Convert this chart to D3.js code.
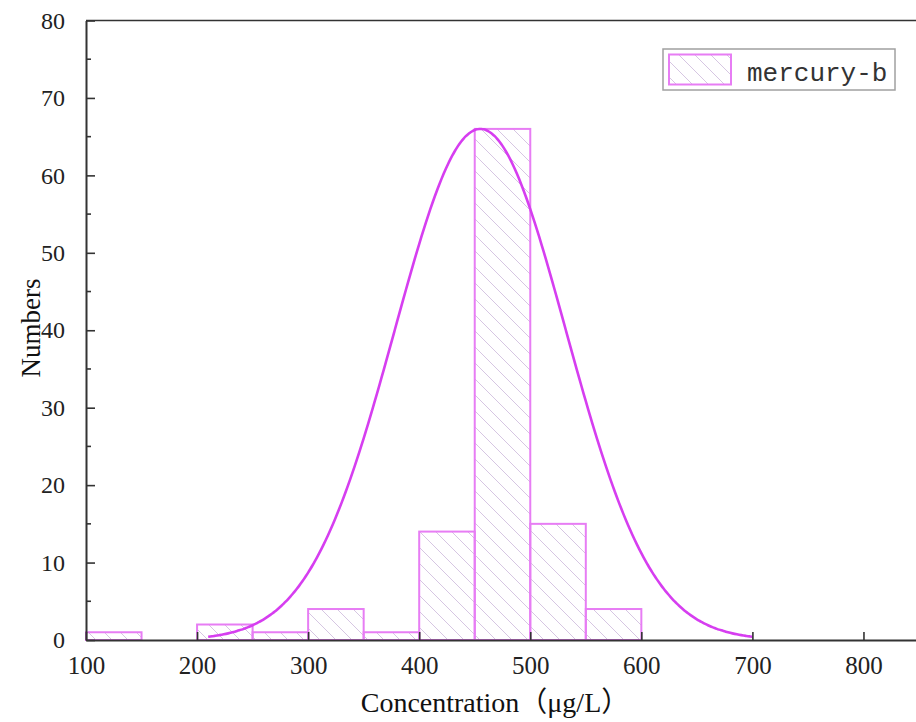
<!DOCTYPE html>
<html>
<head>
<meta charset="utf-8">
<script src="https://cdn.jsdelivr.net/npm/d3@7"></script>
<style>
  html, body { margin: 0; padding: 0; background: #fff; }
  svg { display: block; }
</style>
</head>
<body>
<svg id="chart" width="916" height="722"></svg>
<script>
// Histogram bins (µg/L) and counts
const binStarts = [100, 150, 200, 250, 300, 350, 400, 450, 500, 550];
const binWidth = 50;
const counts = [1, 0, 2, 1, 4, 1, 14, 66, 15, 4];

// Fitted normal curve parameters
const fitMean = 455;
const fitSigma = 77;
const fitPeak = 66;
const fitRange = [210, 700];

// Axis ticks
const xTicks = [100, 200, 300, 400, 500, 600, 700, 800];
const yTicks = [0, 10, 20, 30, 40, 50, 60, 70, 80];
const yMinorTicks = [5, 15, 25, 35, 45, 55, 65, 75];

const seriesName = "mercury-b";
const xTitle = "Concentration（μg/L）";
const yTitle = "Numbers";

const svg = d3.select("#chart");
const x = d3.scaleLinear().domain([100, 850]).range([86, 919]);
const y = d3.scaleLinear().domain([0, 80]).range([640, 20.5]);

const barStroke = "#e77df4";
const curveColor = "#d63ef0";
const hatchColor = "#d6c6e2";
const axisColor = "#333";
const serif = "'Liberation Serif', 'Times New Roman', 'Noto Sans CJK SC', serif";

// Diagonal hatch pattern
const defs = svg.append("defs");
const pat = defs.append("pattern")
  .attr("id", "hatch")
  .attr("patternUnits", "userSpaceOnUse")
  .attr("width", 16).attr("height", 16);
pat.append("path")
  .attr("d", "M0,0 L16,16 M-1,15 L1,17 M15,-1 L17,1")
  .attr("stroke", hatchColor).attr("stroke-width", 1).attr("fill", "none");

// Bars
const bars = binStarts.map((s, i) => ({ x0: s, x1: s + binWidth, v: counts[i] })).filter(d => d.v > 0);
svg.append("g").selectAll("rect").data(bars).join("rect")
  .attr("x", d => x(d.x0))
  .attr("y", d => y(d.v))
  .attr("width", d => x(d.x1) - x(d.x0))
  .attr("height", d => y(0) - y(d.v))
  .attr("fill", "url(#hatch)")
  .attr("stroke", barStroke)
  .attr("stroke-width", 2);

// Normal fit curve
const curvePts = d3.range(fitRange[0], fitRange[1] + 0.5, 2).map(v =>
  [v, fitPeak * Math.exp(-((v - fitMean) ** 2) / (2 * fitSigma * fitSigma))]);
svg.append("path")
  .datum(curvePts)
  .attr("d", d3.line().x(d => x(d[0])).y(d => y(d[1])).curve(d3.curveBasis))
  .attr("fill", "none")
  .attr("stroke", curveColor)
  .attr("stroke-width", 2.6);

// Axes
const xAxis = d3.axisBottom(x).tickValues(xTicks).tickSizeInner(-8).tickSizeOuter(0).tickPadding(20);
const gx = svg.append("g").attr("transform", `translate(0,${y(0)})`).call(xAxis);
gx.select(".domain").attr("stroke", axisColor).attr("stroke-width", 2);
gx.selectAll(".tick line").attr("stroke", axisColor).attr("stroke-width", 1.6);
gx.selectAll(".tick text").attr("font-family", serif).attr("font-size", 25).attr("fill", "#222").attr("dy", "0.55em");

const yAxis = d3.axisLeft(y).tickValues(yTicks).tickSizeInner(-9).tickSizeOuter(0).tickPadding(21);
const gy = svg.append("g").attr("transform", `translate(${x(100)},0)`).call(yAxis);
gy.select(".domain").attr("stroke", axisColor).attr("stroke-width", 2);
gy.selectAll(".tick line").attr("stroke", axisColor).attr("stroke-width", 1.6);
gy.selectAll(".tick text").attr("font-family", serif).attr("font-size", 24).attr("fill", "#222");

svg.append("g").selectAll("line").data(yMinorTicks).join("line")
  .attr("x1", x(100)).attr("x2", x(100) + 5)
  .attr("y1", d => y(d)).attr("y2", d => y(d))
  .attr("stroke", axisColor).attr("stroke-width", 1.6);

// Top frame line
svg.append("line")
  .attr("x1", x(100)).attr("x2", 916)
  .attr("y1", y(80)).attr("y2", y(80))
  .attr("stroke", axisColor).attr("stroke-width", 1.4);

// Axis titles
svg.append("text")
  .attr("x", 495).attr("y", 712)
  .attr("text-anchor", "middle")
  .attr("font-family", serif).attr("font-size", 28).attr("fill", "#111")
  .text(xTitle);

svg.append("text")
  .attr("transform", "translate(40,328) rotate(-90)")
  .attr("text-anchor", "middle")
  .attr("font-family", serif).attr("font-size", 27).attr("fill", "#111")
  .text(yTitle);

// Legend
const lg = svg.append("g");
lg.append("rect")
  .attr("x", 663).attr("y", 49).attr("width", 232).attr("height", 41)
  .attr("fill", "#fff").attr("stroke", "#a0a0a0").attr("stroke-width", 1.5);
lg.append("rect")
  .attr("x", 669).attr("y", 54.5).attr("width", 62).attr("height", 30)
  .attr("fill", "url(#hatch)").attr("stroke", barStroke).attr("stroke-width", 2);
lg.append("text")
  .attr("x", 747).attr("y", 81)
  .attr("font-family", "'Liberation Mono', 'DejaVu Sans Mono', monospace")
  .attr("font-size", 26).attr("fill", "#333")
  .text(seriesName);
</script>
</body>
</html>
